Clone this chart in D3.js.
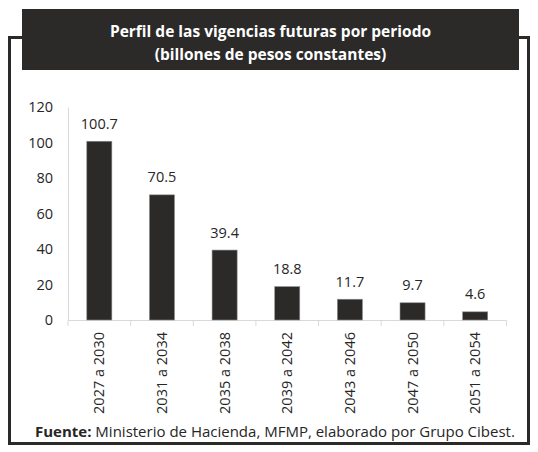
<!DOCTYPE html>
<html>
<head>
<meta charset="utf-8">
<title>Perfil de las vigencias futuras</title>
<style>
  body { margin: 0; background: #fff; }
</style>
</head>
<body>
<svg id="chart" width="538" height="452" xmlns="http://www.w3.org/2000/svg"></svg>

<script src="https://cdn.jsdelivr.net/npm/d3@7"></script>
<script>
const periods = ["2027 a 2030", "2031 a 2034", "2035 a 2038", "2039 a 2042", "2043 a 2046", "2047 a 2050", "2051 a 2054"];
const values = [100.7, 70.5, 39.4, 18.8, 11.7, 9.7, 4.6];
const yTicks = [0, 20, 40, 60, 80, 100, 120];
const titleLines = ["Perfil de las vigencias futuras por periodo", "(billones de pesos constantes)"];
const sourceBold = "Fuente:";
const sourceText = " Ministerio de Hacienda, MFMP, elaborado por Grupo Cibest.";

const width = 538, height = 452;
const dark = "#2b2a29";
const font = "'Open Sans', sans-serif";

const svg = d3.select("#chart");

// outer frame (open at the top where the title box sits)
svg.append("path")
    .attr("d", "M22,37.5 H9.5 V443.5 H528.5 V37.5 H519")
    .attr("fill", "none")
    .attr("stroke", dark)
    .attr("stroke-width", 3);

// title box
svg.append("rect")
    .attr("x", 22).attr("y", 9)
    .attr("width", 497).attr("height", 61)
    .attr("fill", dark);

svg.append("g")
    .attr("font-family", font)
    .attr("font-weight", 700)
    .attr("font-size", 15.5)
    .attr("fill", "#fff")
    .attr("text-anchor", "middle")
  .selectAll("text")
  .data(titleLines)
  .join("text")
    .attr("x", 270.5)
    .attr("y", (d, i) => 37 + i * 23)
    .text(d => d);

const x = d3.scaleBand()
    .domain(periods)
    .range([68, 506.5])
    .paddingInner(0.6)
    .paddingOuter(0.3);

const band = d3.scaleBand().domain(periods).range([68, 506.5]);

const y = d3.scaleLinear()
    .domain([0, 120])
    .range([320, 107]);

// y axis
const yAxis = svg.append("g")
    .attr("transform", "translate(68,0)")
    .call(d3.axisLeft(y).tickValues(yTicks).tickSize(0).tickPadding(15));
yAxis.select(".domain").attr("stroke", "#d9d9d9");
yAxis.selectAll("text")
    .attr("font-family", font)
    .attr("font-size", 14.5)
    .attr("fill", "#262626");

// x axis with ticks between categories
const xAxisG = svg.append("g");
xAxisG.append("line")
    .attr("x1", 68).attr("x2", 506.5)
    .attr("y1", 320.5).attr("y2", 320.5)
    .attr("stroke", "#d9d9d9");
xAxisG.selectAll("line.tick")
  .data(periods.concat([null]))
  .join("line")
    .attr("class", "tick")
    .attr("x1", (d, i) => d === null ? 506.5 : band(d))
    .attr("x2", (d, i) => d === null ? 506.5 : band(d))
    .attr("y1", 320.5).attr("y2", 326)
    .attr("stroke", "#d9d9d9");

xAxisG.selectAll("text")
  .data(periods)
  .join("text")
    .attr("transform", d => `translate(${band(d) + band.bandwidth() / 2},332) rotate(-90)`)
    .attr("text-anchor", "end")
    .attr("dy", "0.35em")
    .attr("font-family", font)
    .attr("font-size", 14.5)
    .attr("fill", "#262626")
    .text(d => d);

// bars
svg.append("g")
  .selectAll("rect")
  .data(values)
  .join("rect")
    .attr("x", (d, i) => x(periods[i]))
    .attr("y", d => y(d))
    .attr("width", x.bandwidth())
    .attr("height", d => y(0) - y(d))
    .attr("fill", dark)
    .attr("stroke", "#8c8c8c")
    .attr("stroke-width", 0.6);

// value labels
svg.append("g")
    .attr("font-family", font)
    .attr("font-size", 14.5)
    .attr("fill", "#262626")
    .attr("text-anchor", "middle")
  .selectAll("text")
  .data(values)
  .join("text")
    .attr("x", (d, i) => x(periods[i]) + x.bandwidth() / 2)
    .attr("y", d => y(d) - 12.5)
    .text(d => d.toFixed(1));

// source
const src = svg.append("text")
    .attr("x", 35)
    .attr("y", 437)
    .attr("font-family", font)
    .attr("font-size", 15)
    .attr("fill", "#262626");
src.append("tspan").attr("font-weight", 700).text(sourceBold);
src.append("tspan").text(sourceText);
</script>
</body>
</html>
